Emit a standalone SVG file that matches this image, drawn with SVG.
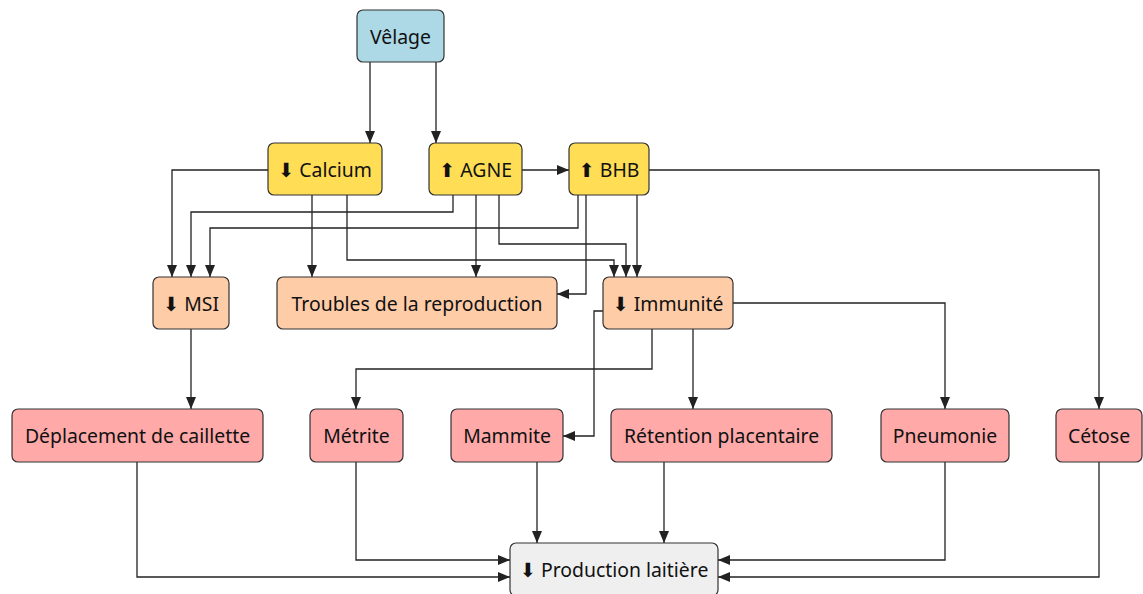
<svg xmlns="http://www.w3.org/2000/svg" width="1143" height="594" viewBox="0 0 1143 594">
<defs>
<marker id="arr" markerUnits="userSpaceOnUse" markerWidth="12" markerHeight="10" refX="12" refY="5" orient="auto">
<path d="M0,0 L12,5 L0,10 z" fill="#222"/>
</marker>
<style>
.n rect{stroke:#333;stroke-width:1.2;rx:6px;ry:6px}
.n text{font-family:"Noto Sans","DejaVu Sans",sans-serif;font-size:19.4px;fill:#111;text-anchor:middle;dominant-baseline:central}
.blue rect{fill:#add8e6}
.yel rect{fill:#ffdd55}
.pea rect{fill:#ffcca8}
.pink rect{fill:#ffa9a9}
.gray rect{fill:#efefef}
#edges path{fill:none;stroke:#222;stroke-width:1.3;marker-end:url(#arr)}
</style>
</defs>
<rect width="1143" height="594" fill="#fff"/>
<g id="edges">
<path d="M370,62 V143"/>
<path d="M436,62 V143"/>
<path d="M522,170 H569"/>
<path d="M268,170 H172 V277"/>
<path d="M453,195 V212 H191 V277"/>
<path d="M578,195 V228 H210 V277"/>
<path d="M312,195 V277"/>
<path d="M347,195 V260 H614 V277"/>
<path d="M476,195 V277"/>
<path d="M499,195 V244 H626 V277"/>
<path d="M586,195 V294 H557"/>
<path d="M637,195 V277"/>
<path d="M649,170 H1099 V409"/>
<path d="M191,329 V409"/>
<path d="M733,303 H945 V409"/>
<path d="M652,329 V369 H356 V409"/>
<path d="M603,311 H594 V436 H563"/>
<path d="M693,329 V409"/>
<path d="M137,462 V577 H510"/>
<path d="M356,462 V560 H510"/>
<path d="M537,462 V543"/>
<path d="M664,462 V543"/>
<path d="M945,462 V560 H718"/>
<path d="M1099,462 V577 H718"/>
</g>
<g id="velage" class="n blue"><rect x="357" y="10" width="87" height="52"/><text x="400.5" y="36">Vêlage</text></g>
<g id="calcium" class="n yel"><rect x="268" y="143" width="114" height="52"/><text x="325" y="169">⬇ Calcium</text></g>
<g id="agne" class="n yel"><rect x="429" y="143" width="93" height="52"/><text x="475.5" y="169">⬆ AGNE</text></g>
<g id="bhb" class="n yel"><rect x="569" y="143" width="80" height="52"/><text x="609" y="169">⬆ BHB</text></g>
<g id="msi" class="n pea"><rect x="153" y="277" width="76" height="52"/><text x="191" y="303">⬇ MSI</text></g>
<g id="troubles" class="n pea"><rect x="277" y="277" width="280" height="52"/><text x="417" y="303">Troubles de la reproduction</text></g>
<g id="immunite" class="n pea"><rect x="603" y="277" width="130" height="52"/><text x="668" y="303">⬇ Immunité</text></g>
<g id="deplacement" class="n pink"><rect x="12" y="409" width="251" height="53"/><text x="137.5" y="435.5">Déplacement de caillette</text></g>
<g id="metrite" class="n pink"><rect x="310" y="409" width="93" height="53"/><text x="356.5" y="435.5">Métrite</text></g>
<g id="mammite" class="n pink"><rect x="451" y="409" width="112" height="53"/><text x="507" y="435.5">Mammite</text></g>
<g id="retention" class="n pink"><rect x="611" y="409" width="221" height="53"/><text x="721.5" y="435.5">Rétention placentaire</text></g>
<g id="pneumonie" class="n pink"><rect x="881" y="409" width="128" height="53"/><text x="945" y="435.5">Pneumonie</text></g>
<g id="cetose" class="n pink"><rect x="1056" y="409" width="86" height="53"/><text x="1099" y="435.5">Cétose</text></g>
<g id="production" class="n gray"><rect x="510" y="543" width="208" height="53"/><text x="614" y="569">⬇ Production laitière</text></g>
</svg>
